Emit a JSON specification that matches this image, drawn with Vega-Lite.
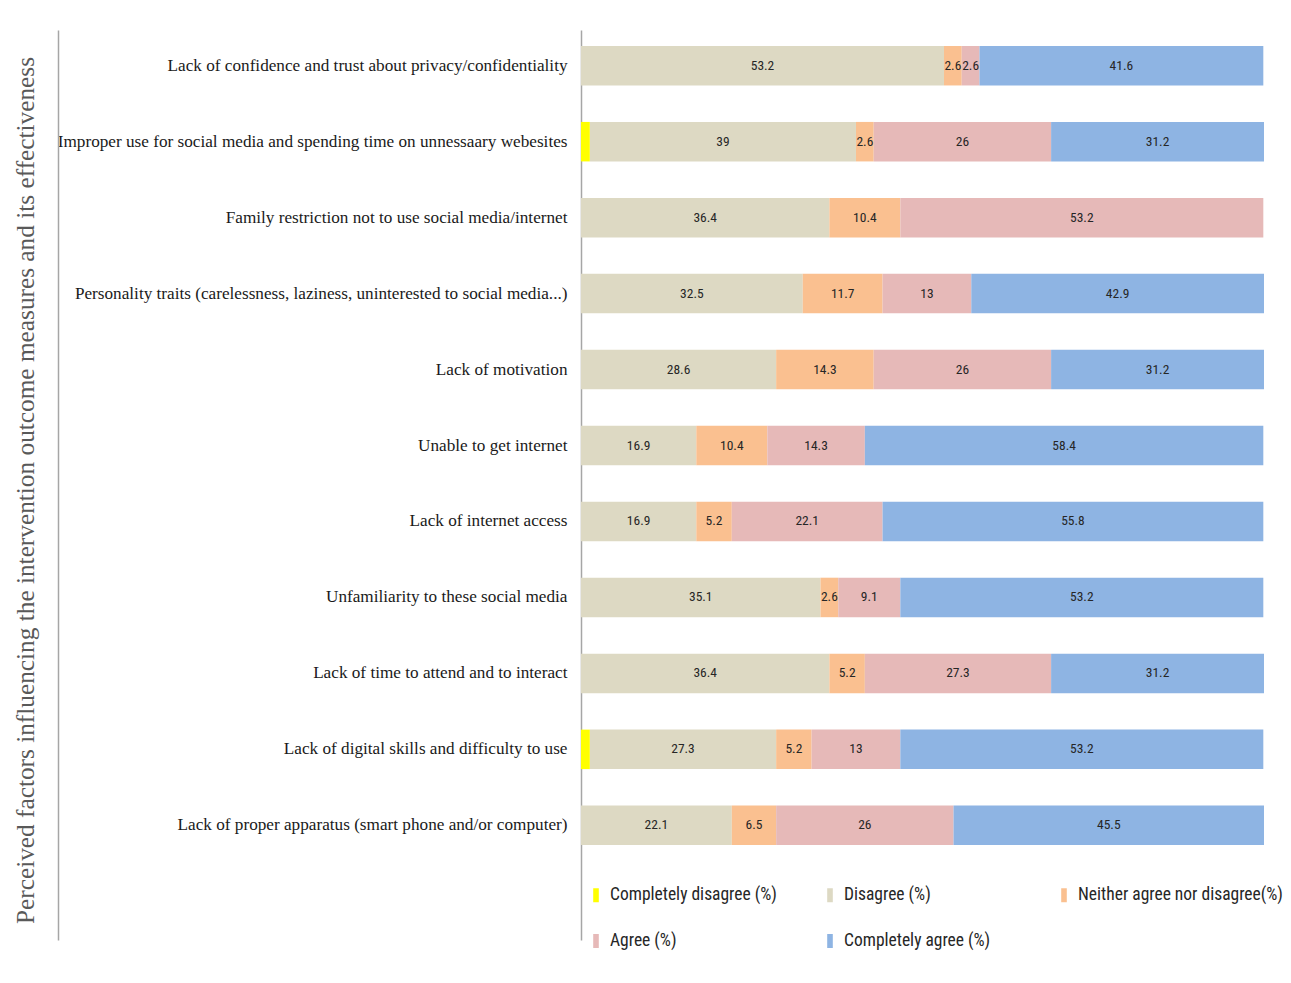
{
  "$schema": "https://vega.github.io/schema/vega-lite/v6.json",
  "autosize": "none",
  "padding": {"left": 581, "top": 30, "right": 27, "bottom": 43},
  "width": 683,
  "height": 910,
  "background": "white",
  "config": {"view": {"stroke": null}},
  "data": {"values": [
    {"factor": "Lack of confidence and trust about privacy/confidentiality", "response": "Disagree (%)", "rank": 2, "value": 53.2},
    {"factor": "Lack of confidence and trust about privacy/confidentiality", "response": "Neither agree  nor disagree(%)", "rank": 3, "value": 2.6},
    {"factor": "Lack of confidence and trust about privacy/confidentiality", "response": "Agree (%)", "rank": 4, "value": 2.6},
    {"factor": "Lack of confidence and trust about privacy/confidentiality", "response": "Completely agree (%)", "rank": 5, "value": 41.6},
    {"factor": "Improper use for social media and spending time on unnessaary webesites", "response": "Completely disagree (%)", "rank": 1, "value": 1.3},
    {"factor": "Improper use for social media and spending time on unnessaary webesites", "response": "Disagree (%)", "rank": 2, "value": 39},
    {"factor": "Improper use for social media and spending time on unnessaary webesites", "response": "Neither agree  nor disagree(%)", "rank": 3, "value": 2.6},
    {"factor": "Improper use for social media and spending time on unnessaary webesites", "response": "Agree (%)", "rank": 4, "value": 26},
    {"factor": "Improper use for social media and spending time on unnessaary webesites", "response": "Completely agree (%)", "rank": 5, "value": 31.2},
    {"factor": "Family restriction not to use social media/internet", "response": "Disagree (%)", "rank": 2, "value": 36.4},
    {"factor": "Family restriction not to use social media/internet", "response": "Neither agree  nor disagree(%)", "rank": 3, "value": 10.4},
    {"factor": "Family restriction not to use social media/internet", "response": "Agree (%)", "rank": 4, "value": 53.2},
    {"factor": "Personality traits (carelessness, laziness, uninterested to social media...)", "response": "Disagree (%)", "rank": 2, "value": 32.5},
    {"factor": "Personality traits (carelessness, laziness, uninterested to social media...)", "response": "Neither agree  nor disagree(%)", "rank": 3, "value": 11.7},
    {"factor": "Personality traits (carelessness, laziness, uninterested to social media...)", "response": "Agree (%)", "rank": 4, "value": 13},
    {"factor": "Personality traits (carelessness, laziness, uninterested to social media...)", "response": "Completely agree (%)", "rank": 5, "value": 42.9},
    {"factor": "Lack of motivation", "response": "Disagree (%)", "rank": 2, "value": 28.6},
    {"factor": "Lack of motivation", "response": "Neither agree  nor disagree(%)", "rank": 3, "value": 14.3},
    {"factor": "Lack of motivation", "response": "Agree (%)", "rank": 4, "value": 26},
    {"factor": "Lack of motivation", "response": "Completely agree (%)", "rank": 5, "value": 31.2},
    {"factor": "Unable to get  internet", "response": "Disagree (%)", "rank": 2, "value": 16.9},
    {"factor": "Unable to get  internet", "response": "Neither agree  nor disagree(%)", "rank": 3, "value": 10.4},
    {"factor": "Unable to get  internet", "response": "Agree (%)", "rank": 4, "value": 14.3},
    {"factor": "Unable to get  internet", "response": "Completely agree (%)", "rank": 5, "value": 58.4},
    {"factor": "Lack of internet access", "response": "Disagree (%)", "rank": 2, "value": 16.9},
    {"factor": "Lack of internet access", "response": "Neither agree  nor disagree(%)", "rank": 3, "value": 5.2},
    {"factor": "Lack of internet access", "response": "Agree (%)", "rank": 4, "value": 22.1},
    {"factor": "Lack of internet access", "response": "Completely agree (%)", "rank": 5, "value": 55.8},
    {"factor": "Unfamiliarity to these social media", "response": "Disagree (%)", "rank": 2, "value": 35.1},
    {"factor": "Unfamiliarity to these social media", "response": "Neither agree  nor disagree(%)", "rank": 3, "value": 2.6},
    {"factor": "Unfamiliarity to these social media", "response": "Agree (%)", "rank": 4, "value": 9.1},
    {"factor": "Unfamiliarity to these social media", "response": "Completely agree (%)", "rank": 5, "value": 53.2},
    {"factor": "Lack of time to attend and to interact", "response": "Disagree (%)", "rank": 2, "value": 36.4},
    {"factor": "Lack of time to attend and to interact", "response": "Neither agree  nor disagree(%)", "rank": 3, "value": 5.2},
    {"factor": "Lack of time to attend and to interact", "response": "Agree (%)", "rank": 4, "value": 27.3},
    {"factor": "Lack of time to attend and to interact", "response": "Completely agree (%)", "rank": 5, "value": 31.2},
    {"factor": "Lack of digital skills and difficulty to use", "response": "Completely disagree (%)", "rank": 1, "value": 1.3},
    {"factor": "Lack of digital skills and difficulty to use", "response": "Disagree (%)", "rank": 2, "value": 27.3},
    {"factor": "Lack of digital skills and difficulty to use", "response": "Neither agree  nor disagree(%)", "rank": 3, "value": 5.2},
    {"factor": "Lack of digital skills and difficulty to use", "response": "Agree (%)", "rank": 4, "value": 13},
    {"factor": "Lack of digital skills and difficulty to use", "response": "Completely agree (%)", "rank": 5, "value": 53.2},
    {"factor": "Lack of proper apparatus (smart phone and/or computer)", "response": "Disagree (%)", "rank": 2, "value": 22.1},
    {"factor": "Lack of proper apparatus (smart phone and/or computer)", "response": "Neither agree  nor disagree(%)", "rank": 3, "value": 6.5},
    {"factor": "Lack of proper apparatus (smart phone and/or computer)", "response": "Agree (%)", "rank": 4, "value": 26},
    {"factor": "Lack of proper apparatus (smart phone and/or computer)", "response": "Completely agree (%)", "rank": 5, "value": 45.5}
  ]},
  "resolve": {"scale": {"y": "independent"}},
  "layer": [
    {
      "encoding": {
        "y": {
          "field": "factor",
          "type": "nominal",
          "sort": null,
          "scale": {"paddingInner": 0.48, "paddingOuter": 0.73, "align": 0.144},
          "axis": {
            "title": "Perceived factors influencing the intervention outcome measures and its effectiveness",
            "titleFont": "Liberation Serif",
            "titleFontSize": 25.3,
            "titleFontWeight": "normal",
            "titleColor": "#595959",
            "titleAngle": -90,
            "titleAlign": "center",
            "titleBaseline": "middle",
            "titleX": -556,
            "titleY": 460,
            "labelFont": "Liberation Serif",
            "labelFontSize": 17.2,
            "labelColor": "#1a1a1a",
            "labelPadding": 14,
            "labelLimit": 1000,
            "ticks": false,
            "domainColor": "#a6a6a6",
            "domainWidth": 1.5
          }
        }
      },
      "layer": [
        {
          "mark": {"type": "bar"},
          "encoding": {
            "x": {"field": "value", "type": "quantitative", "stack": "zero", "scale": {"domain": [0, 100.1], "nice": false}, "axis": null},
            "color": {
              "field": "response",
              "type": "nominal",
              "scale": {
                "domain": ["Completely disagree (%)", "Disagree (%)", "Neither agree  nor disagree(%)", "Agree (%)", "Completely agree (%)"],
                "range": ["#ffff00", "#ddd9c3", "#fac090", "#e6b9b8", "#8eb4e3"]
              },
              "legend": {
                "title": null,
                "orient": "none",
                "legendX": 5,
                "legendY": 855,
                "direction": "horizontal",
                "columns": 3,
                "gridAlign": "all",
                "columnPadding": 1,
                "rowPadding": 27,
                "padding": 0,
                "symbolType": "M-0.28,-0.7H0.28V0.7H-0.28Z",
                "symbolSize": 400,
                "symbolStrokeWidth": 0,
                "labelFont": "Liberation Sans Narrow, Roboto Condensed, Liberation Sans",
                "labelFontSize": 17.5,
                "labelColor": "#262626",
                "labelOffset": 4,
                "labelLimit": 400
              }
            },
            "order": {"field": "rank", "type": "quantitative"}
          }
        },
        {
          "mark": {"type": "text", "font": "Liberation Sans Narrow, Roboto Condensed, Liberation Sans", "fontSize": 13.5, "color": "#262626"},
          "encoding": {
            "x": {"field": "value", "type": "quantitative", "stack": "zero", "bandPosition": 0.5},
            "detail": {"field": "response"},
            "order": {"field": "rank", "type": "quantitative"},
            "text": {
              "condition": {"test": "datum.rank === 1", "value": ""},
              "field": "value",
              "type": "quantitative",
              "format": ""
            }
          }
        }
      ]
    },
    {
      "mark": {"type": "point", "opacity": 0},
      "encoding": {
        "y": {
          "field": "factor",
          "type": "nominal",
          "sort": null,
          "axis": {"orient": "left", "offset": 523, "labels": false, "ticks": false, "grid": false, "title": null, "domainColor": "#a6a6a6", "domainWidth": 1.5}
        }
      }
    }
  ]
}
